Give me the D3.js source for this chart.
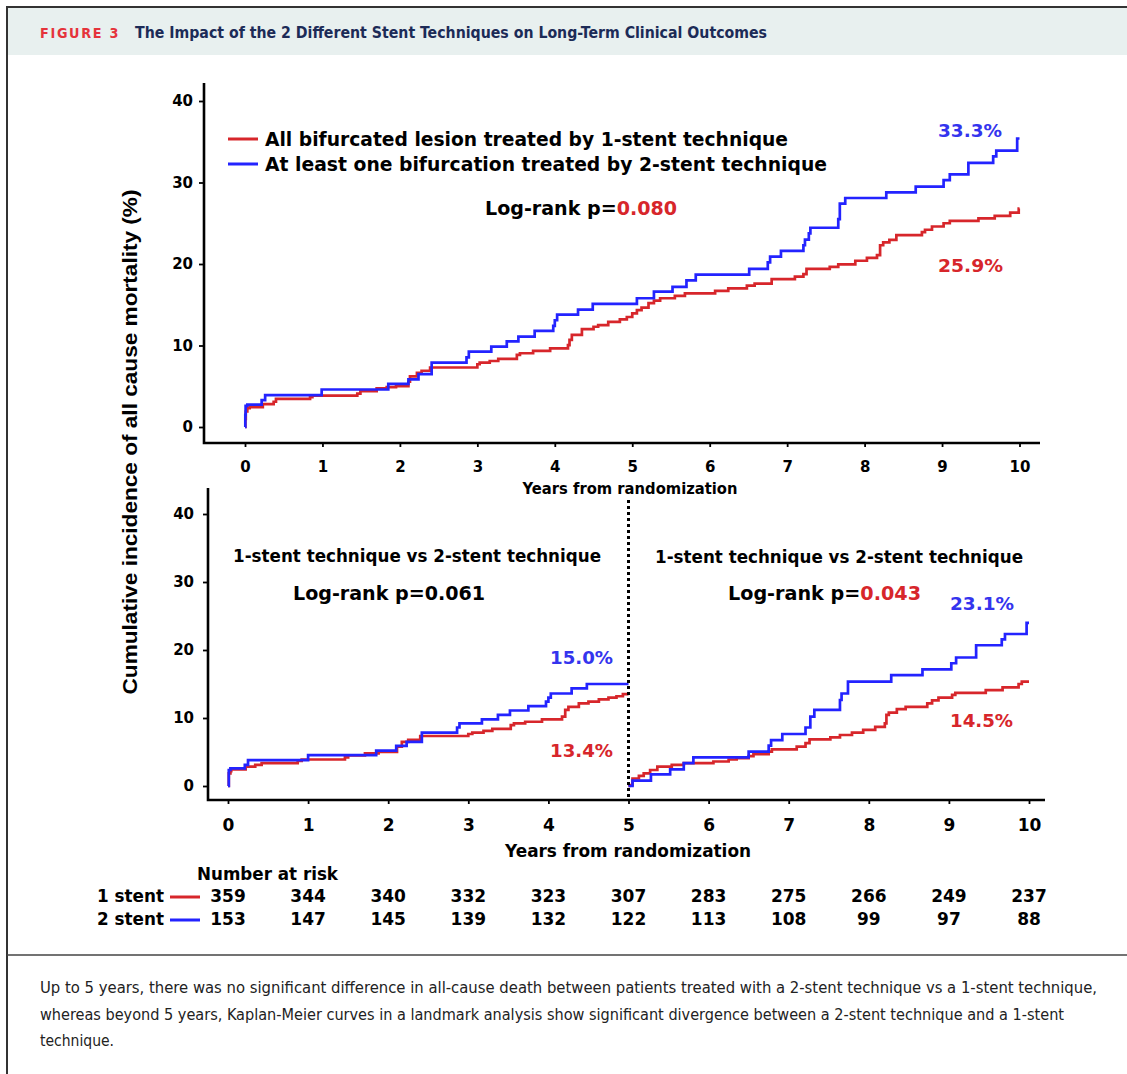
<!DOCTYPE html>
<html><head><meta charset="utf-8">
<script src="https://cdn.jsdelivr.net/npm/d3@7"></script>
<style>body{margin:0;background:#fff}svg{display:block}</style>
</head><body><svg id="c" width="1127" height="1074"></svg>
<script>
// ---------- data ----------
const years = [0,1,2,3,4,5,6,7,8,9,10];
const yTicks = [0,10,20,30,40];
const riskOneStent = [359,344,340,332,323,307,283,275,266,249,237];
const riskTwoStent = [153,147,145,139,132,122,113,108,99,97,88];
const seriesNames = ["All bifurcated lesion treated by 1-stent technique","At least one bifurcation treated by 2-stent technique"];
const riskNames = ["1 stent","2 stent"];

// top panel: whole 10-year follow-up (years, cumulative %)
const topOneStent = [[0,0],[0.005,1.0],[0.01,1.9],[0.03,2.3],[0.06,2.45],[0.23,2.8],[0.37,3.1],[0.40,3.45],[0.84,3.65],[0.87,3.85],[1.45,4.1],[1.49,4.4],[1.70,4.75],[1.83,4.9],[1.95,5.0],[2.11,5.55],[2.13,6.2],[2.22,6.65],[2.28,6.9],[2.39,7.3],[3.0,7.7],[3.03,7.9],[3.16,8.1],[3.27,8.35],[3.51,8.85],[3.55,9.05],[3.72,9.35],[3.94,9.65],[4.17,10.05],[4.19,10.7],[4.22,11.3],[4.35,12.0],[4.50,12.3],[4.56,12.5],[4.69,12.9],[4.84,13.2],[4.93,13.5],[5.0,13.95],[5.06,14.35],[5.12,14.65],[5.21,15.2],[5.28,15.5],[5.36,15.8],[5.55,16.1],[5.68,16.4],[6.07,16.7],[6.24,17.0],[6.48,17.35],[6.58,17.6],[6.80,18.15],[7.10,18.45],[7.21,18.75],[7.25,19.4],[7.55,19.65],[7.66,19.95],[7.88,20.4],[8.03,20.75],[8.16,21.1],[8.20,22.3],[8.24,22.65],[8.32,22.95],[8.41,23.55],[8.74,23.9],[8.78,24.2],[8.87,24.6],[9.02,25.0],[9.10,25.3],[9.47,25.6],[9.68,25.9],[9.88,26.3],[9.99,26.8],[10.0,26.8]];
const topTwoStent = [[0,0],[0.004,1.5],[0.008,2.6],[0.03,2.75],[0.215,3.3],[0.26,3.9],[0.99,4.6],[1.85,5.3],[2.11,5.85],[2.24,6.5],[2.41,7.9],[2.86,8.55],[2.89,9.25],[3.18,9.85],[3.38,10.5],[3.53,11.1],[3.74,11.8],[3.98,12.4],[4.00,13.1],[4.03,13.8],[4.30,14.4],[4.49,15.1],[5.06,15.8],[5.28,16.6],[5.52,17.2],[5.70,18.0],[5.82,18.7],[6.51,19.4],[6.75,20.2],[6.78,20.9],[6.92,21.6],[7.21,22.3],[7.23,23.0],[7.28,23.75],[7.30,24.45],[7.66,25.5],[7.68,27.4],[7.75,28.1],[8.28,28.8],[8.66,29.5],[9.02,30.3],[9.10,31.0],[9.34,32.4],[9.66,33.2],[9.70,33.9],[9.97,35.4],[10.0,35.4]];

// bottom panel: landmark analysis 0-5 and 5-10 years
const earlyOneStent = [[0,0],[0.01,1.85],[0.03,2.2],[0.04,2.45],[0.22,2.85],[0.34,3.1],[0.42,3.35],[0.87,3.7],[0.92,3.9],[1.46,4.2],[1.50,4.5],[1.71,4.8],[1.88,5.0],[2.11,5.8],[2.17,6.5],[2.25,6.8],[2.40,7.35],[3.0,7.65],[3.05,7.85],[3.19,8.1],[3.30,8.4],[3.53,8.95],[3.57,9.2],[3.71,9.45],[3.92,9.8],[4.17,10.2],[4.21,11.2],[4.25,11.65],[4.38,12.15],[4.50,12.4],[4.63,12.75],[4.75,13.0],[4.85,13.2],[4.93,13.5],[5.0,13.5]];
const earlyTwoStent = [[0,0],[0.01,2.35],[0.03,2.6],[0.21,3.1],[0.25,3.8],[1.0,4.55],[1.85,5.2],[2.10,5.9],[2.23,6.5],[2.42,7.85],[2.86,8.6],[2.89,9.2],[3.17,9.8],[3.37,10.45],[3.52,11.1],[3.75,11.75],[3.97,12.4],[4.00,13.0],[4.03,13.6],[4.29,14.35],[4.48,15.0],[5.0,15.0]];
const lateOneStent = [[5.0,0],[5.01,0.15],[5.05,1.1],[5.13,1.5],[5.19,1.85],[5.27,2.35],[5.36,2.85],[5.54,3.1],[5.69,3.35],[6.06,3.6],[6.25,3.9],[6.35,4.1],[6.50,4.4],[6.56,4.7],[6.75,5.05],[6.79,5.4],[7.10,5.8],[7.21,6.3],[7.26,6.85],[7.52,7.15],[7.64,7.5],[7.79,7.85],[7.93,8.25],[8.08,8.7],[8.20,9.2],[8.22,10.45],[8.25,10.8],[8.35,11.3],[8.46,11.65],[8.73,12.15],[8.79,12.6],[8.87,13.0],[9.04,13.4],[9.08,13.7],[9.46,14.1],[9.67,14.5],[9.87,15.0],[9.91,15.35],[10.0,15.35]];
const lateTwoStent = [[5.0,0],[5.05,0.8],[5.28,1.7],[5.52,2.45],[5.69,3.35],[5.81,4.2],[6.50,5.05],[6.75,5.95],[6.78,6.75],[6.92,7.65],[7.21,8.6],[7.27,10.2],[7.32,11.2],[7.64,12.65],[7.66,13.6],[7.74,15.35],[8.28,16.3],[8.67,17.15],[9.03,18.05],[9.09,18.9],[9.34,20.7],[9.66,21.55],[9.70,22.35],[9.97,24.0],[10.0,24.0]];

// ---------- drawing ----------
const RED = "#d7262b", BLUE = "#2323ff", LBLUE = "#3434ee";
const FONT = "'DejaVu Sans', Verdana, sans-serif";
const NARROW = "'Liberation Sans Narrow','DejaVu Sans Condensed',sans-serif";
const svg = d3.select("#c");
svg.append("rect").attr("width",1127).attr("height",1074).attr("fill","#fff");

// frame + header
svg.append("rect").attr("x",8).attr("y",8).attr("width",1119).attr("height",47).attr("fill","#e8f0ef");
svg.append("line").attr("x1",7).attr("x2",1127).attr("y1",7).attr("y2",7).attr("stroke","#333").attr("stroke-width",2);
svg.append("line").attr("x1",7).attr("x2",7).attr("y1",6).attr("y2",1074).attr("stroke","#333").attr("stroke-width",2);
svg.append("line").attr("x1",7).attr("x2",1127).attr("y1",955).attr("y2",955).attr("stroke","#444").attr("stroke-width",1.5);
svg.append("text").attr("x",40).attr("y",38).attr("font-family",NARROW).attr("font-weight","bold")
  .attr("font-size",13.5).attr("letter-spacing",1.6).attr("fill","#e5333b").attr("textLength",80).attr("lengthAdjust","spacingAndGlyphs").text("FIGURE 3");
svg.append("text").attr("x",135).attr("y",38).attr("font-family",NARROW).attr("font-weight","bold")
  .attr("font-size",16).attr("fill","#1c2b57").attr("textLength",632).attr("lengthAdjust","spacingAndGlyphs")
  .text("The Impact of the 2 Different Stent Techniques on Long-Term Clinical Outcomes");

const captionLines = [
 ["Up to 5 years, there was no significant difference in all-cause death between patients treated with a 2-stent technique vs a 1-stent technique,",1057],
 ["whereas beyond 5 years, Kaplan-Meier curves in a landmark analysis show significant divergence between a 2-stent technique and a 1-stent",1024],
 ["technique.",74]];
captionLines.forEach((c,i)=>{
  svg.append("text").attr("x",40).attr("y",993+i*26.5).attr("font-family",NARROW).attr("font-size",16)
   .attr("fill","#222").attr("textLength",c[1]).attr("lengthAdjust","spacingAndGlyphs").text(c[0]);
});

// scales
const xTop = d3.scaleLinear().domain([0,10]).range([245,1019.5]);
const yTop = d3.scaleLinear().domain([0,40]).range([427,101]);
const xBot = d3.scaleLinear().domain([0,10]).range([228,1029]);
const yBot = d3.scaleLinear().domain([0,40]).range([786,514]);

function drawAxes(x, y, yAxisX, xAxisY, yTopEnd, xRightEnd, xFont, xPad, yPad){
  const gy = svg.append("g").attr("transform",`translate(${yAxisX},0)`)
    .call(d3.axisLeft(y).tickValues(yTicks).tickSize(5).tickPadding(yPad).tickFormat(d3.format("d")));
  const gx = svg.append("g").attr("transform",`translate(0,${xAxisY})`)
    .call(d3.axisBottom(x).tickValues(years).tickSize(4).tickPadding(xPad).tickFormat(d3.format("d")));
  [gx,gy].forEach(g=>{
    g.select(".domain").remove();
    g.selectAll(".tick line").attr("stroke","#000").attr("stroke-width",1.8);
    g.selectAll(".tick text").attr("font-family",FONT).attr("font-weight","bold").attr("fill","#000");
  });
  gy.selectAll(".tick text").attr("font-size",15);
  gx.selectAll(".tick text").attr("font-size",xFont);
  svg.append("path").attr("d",`M${yAxisX},${yTopEnd}V${xAxisY}H${xRightEnd}`)
    .attr("fill","none").attr("stroke","#000").attr("stroke-width",2.6);
}
drawAxes(xTop, yTop, 204, 443, 83, 1040, 15, 14, 6);
drawAxes(xBot, yBot, 208, 800, 488, 1045, 17, 15, 9);

const lineTop = d3.line().x(d=>xTop(d[0])).y(d=>yTop(d[1])).curve(d3.curveStepAfter);
const lineBot = d3.line().x(d=>xBot(d[0])).y(d=>yBot(d[1])).curve(d3.curveStepAfter);
function curve(gen, data, color){
  svg.append("path").datum(data).attr("d",gen).attr("fill","none").attr("stroke",color)
    .attr("stroke-width",2.7).attr("stroke-linejoin","miter");
}
curve(lineTop, topOneStent, RED);
curve(lineTop, topTwoStent, BLUE);
curve(lineBot, earlyOneStent, RED);
curve(lineBot, earlyTwoStent, BLUE);
curve(lineBot, lateOneStent, RED);
curve(lineBot, lateTwoStent, BLUE);

// landmark divider
svg.append("line").attr("x1",xBot(5)).attr("x2",xBot(5)).attr("y1",500).attr("y2",800)
  .attr("stroke","#000").attr("stroke-width",3).attr("stroke-dasharray","3,3");

function txt(x,y,size,s,fill,len,anchor){
  const t = svg.append("text").attr("x",x).attr("y",y).attr("font-family",FONT).attr("font-weight","bold")
    .attr("font-size",size).attr("fill",fill||"#000").attr("text-anchor",anchor||"start").text(s);
  if(len) t.attr("textLength",len).attr("lengthAdjust","spacingAndGlyphs");
  return t;
}

// legend
[RED,BLUE].forEach((c,i)=>{
  svg.append("line").attr("x1",228).attr("x2",258).attr("y1",139+i*25).attr("y2",139+i*25).attr("stroke",c).attr("stroke-width",3);
  txt(265,146+i*25,20,seriesNames[i],"#000",i===0?523:562);
});
function logrank(x,y,val,col,len){
  const t = txt(x,y,20,"Log-rank p=","#000",null);
  t.append("tspan").attr("fill",col).text(val);
  t.attr("textLength",len).attr("lengthAdjust","spacingAndGlyphs");
}
logrank(485,215,"0.080",RED,192);
txt(938,137,18,"33.3%",LBLUE,64);
txt(938,272,18,"25.9%",RED,65);

// axis titles
txt(630,494,15,"Years from randomization","#000",215,"middle");
txt(628,857,17.5,"Years from randomization","#000",246,"middle");
svg.append("text").attr("transform","translate(137,442) rotate(-90)").attr("text-anchor","middle")
  .attr("font-family","'Liberation Sans', Arial, sans-serif").attr("font-weight","bold").attr("font-size",20.5)
  .attr("textLength",505).attr("lengthAdjust","spacingAndGlyphs")
  .text("Cumulative incidence of all cause mortality (%)");

// bottom panel annotations
txt(233,562,18.5,"1-stent technique vs 2-stent technique","#000",368);
txt(655,563,18.5,"1-stent technique vs 2-stent technique","#000",368);
logrank(293,600,"0.061","#000",192);
logrank(728,600,"0.043",RED,193);
txt(550,664,18,"15.0%",LBLUE,63);
txt(550,757,18,"13.4%",RED,63);
txt(950,610,18,"23.1%",LBLUE,64);
txt(950,727,18,"14.5%",RED,63);

// number at risk
txt(197,880,17,"Number at risk","#000",141);
[[riskOneStent,RED,902],[riskTwoStent,BLUE,925]].forEach((r,i)=>{
  txt(164,r[2],17,riskNames[i],"#000",67,"end");
  svg.append("line").attr("x1",170).attr("x2",200).attr("y1",r[2]-5).attr("y2",r[2]-5).attr("stroke",r[1]).attr("stroke-width",3);
  svg.selectAll(null).data(r[0]).enter().append("text")
    .attr("x",(d,j)=>xBot(years[j])).attr("y",r[2]).attr("text-anchor","middle")
    .attr("font-family",FONT).attr("font-weight","bold").attr("font-size",17).text(d=>d);
});
</script></body></html>
